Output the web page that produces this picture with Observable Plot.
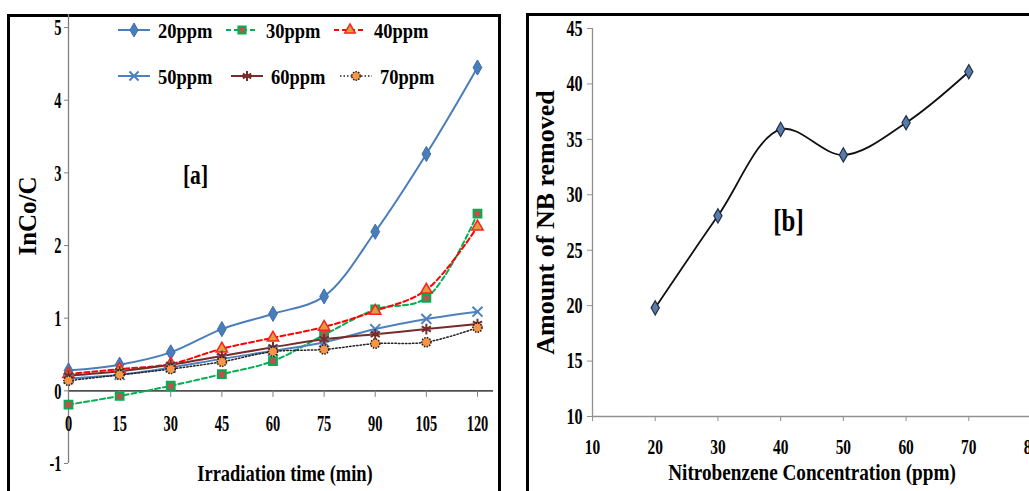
<!DOCTYPE html>
<html><head><meta charset="utf-8">
<script src="https://cdn.jsdelivr.net/npm/d3@7"></script>
<script src="https://cdn.jsdelivr.net/npm/@observablehq/plot@0.6"></script>
<style>
html,body{margin:0;padding:0;background:#fff;width:1029px;height:491px;overflow:hidden}
#wrap{position:relative;width:1029px;height:491px;overflow:hidden;font-family:"Liberation Serif",serif}
.box{position:absolute;border:3px solid #000;box-sizing:border-box}
</style></head>
<body><div id="wrap"></div>
<script>
// ---------- Data: panel [a] ----------
const time = [0, 15, 30, 45, 60, 75, 90, 105, 120];
const ppm20 = [0.28, 0.36, 0.53, 0.85, 1.06, 1.30, 2.19, 3.26, 4.45];
const ppm30 = [-0.19, -0.07, 0.07, 0.23, 0.41, 0.77, 1.12, 1.28, 2.44];
const ppm40 = [0.23, 0.30, 0.37, 0.58, 0.73, 0.88, 1.10, 1.39, 2.26];
const ppm50 = [0.17, 0.22, 0.32, 0.44, 0.55, 0.67, 0.85, 0.99, 1.09];
const ppm60 = [0.21, 0.27, 0.36, 0.48, 0.60, 0.71, 0.78, 0.85, 0.92];
const ppm70 = [0.14, 0.22, 0.30, 0.40, 0.54, 0.57, 0.65, 0.67, 0.87];
const seriesNames = ["20ppm", "30ppm", "40ppm", "50ppm", "60ppm", "70ppm"];
const seriesValues = [ppm20, ppm30, ppm40, ppm50, ppm60, ppm70];
const xTicksA = [0, 15, 30, 45, 60, 75, 90, 105, 120];
const yTicksA = [-1, 0, 1, 2, 3, 4, 5];

// ---------- Data: panel [b] ----------
const concentration = [20, 30, 40, 50, 60, 70];
const nbRemoved = [19.8, 28.1, 35.9, 33.6, 36.5, 41.1];
const xTicksB = [10, 20, 30, 40, 50, 60, 70, 80];
const yTicksB = [10, 15, 20, 25, 30, 35, 40, 45];

// ---------- Styles ----------
const styles = {
  "20ppm": {stroke: "#4A7EBB", width: 2, dash: null, symbol: "diamond", r: 4.6, fill: "#4A7EBB", mstroke: "#3d6da8", mwidth: 1, mdash: null},
  "30ppm": {stroke: "#00B050", width: 2, dash: "5,3", symbol: "square", r: 4.4, fill: "#C0504D", mstroke: "#00B050", mwidth: 2, mdash: null},
  "40ppm": {stroke: "#FF0000", width: 2, dash: "5,3", symbol: "triangle", r: 4.2, fill: "#D9A040", mstroke: "#FF2020", mwidth: 1.5, mdash: null},
  "50ppm": {stroke: "#4F81BD", width: 2, dash: null, symbol: "times", r: 4.6, fill: "none", mstroke: "#4F81BD", mwidth: 2, mdash: null},
  "60ppm": {stroke: "#772C2A", width: 2, dash: null, symbol: "asterisk", r: 5, fill: "none", mstroke: "#772C2A", mwidth: 2, mdash: null},
  "70ppm": {stroke: "#222222", width: 1.5, dash: "1.5,2", symbol: "circle", r: 4.6, fill: "#F79646", mstroke: "#222222", mwidth: 1.5, mdash: "1.5,1.2"}
};
const symMap = {diamond: d3.symbolDiamond, square: d3.symbolSquare, triangle: d3.symbolTriangle,
  times: d3.symbolTimes, asterisk: d3.symbolAsterisk, circle: d3.symbolCircle};

const FONT = "Liberation Serif";
const wrap = document.getElementById("wrap");

function box(l, t, w, h) {
  const d = document.createElement("div");
  d.className = "box";
  Object.assign(d.style, {left: l + "px", top: t + "px", width: w + "px", height: h + "px"});
  wrap.appendChild(d);
}
box(7, 14, 494, 500);
box(526, 13, 520, 500);

// squeeze horizontal text along its length (the reference figure is horizontally squeezed)
function condense(root, kNum, kOther) {
  d3.select(root).selectAll("text").each(function () {
    const s = this.textContent;
    if (!s) return;
    const t = this.getAttribute("transform") || "";
    if (/rotate/.test(t)) return;
    const k = /^-?\d+$/.test(s) ? kNum : kOther;
    const L = this.getComputedTextLength();
    if (!(L > 0)) return;
    this.setAttribute("textLength", (L * k).toFixed(2));
    this.setAttribute("lengthAdjust", "spacingAndGlyphs");
  });
}

const titleFont = {fontFamily: FONT, fontWeight: "bold", fill: "black", textAnchor: "middle", lineAnchor: "middle"};

// ---------- Panel [a] ----------
const rowsA = seriesNames.flatMap((name, i) => time.map((t, j) => ({series: name, t, v: seriesValues[i][j]})));
const tickFont = {fontFamily: FONT, fontWeight: "bold", fontSize: 24, fill: "black"};

const seriesMarks = [];
for (const name of seriesNames) {
  const st = styles[name];
  const data = rowsA.filter(d => d.series === name);
  seriesMarks.push(Plot.line(data, {x: "t", y: "v", stroke: st.stroke, strokeWidth: st.width,
    strokeDasharray: st.dash, curve: "catmull-rom"}));
}
for (const name of seriesNames) {
  const st = styles[name];
  const data = rowsA.filter(d => d.series === name);
  seriesMarks.push(Plot.dot(data, {x: "t", y: "v", symbol: st.symbol, r: st.r, fill: st.fill,
    stroke: st.mstroke, strokeWidth: st.mwidth, strokeDasharray: st.mdash}));
}

const plotA = Plot.plot({
  width: 505, height: 491,
  marginLeft: 68, marginRight: 12, marginTop: 14, marginBottom: 28,
  x: {domain: [0, 124.7], axis: null},
  y: {domain: [-1, 5.18]},
  style: {position: "absolute", left: "0px", top: "0px", background: "transparent", overflow: "visible", maxWidth: "none"},
  marks: [
    Plot.ruleX([0], {stroke: "#808080", strokeWidth: 1.3}),
    Plot.axisY({ticks: yTicksA, tickSize: 4, tickFormat: () => "", stroke: "#808080", label: null}),
    Plot.ruleY([0], {stroke: "#505050", strokeWidth: 1.6}),
    Plot.ruleX(xTicksA, {x: d => d, y1: 0, y2: -0.09, stroke: "#808080"}),
    Plot.text(xTicksA, {x: d => d, y: 0, dy: 32, text: d => String(d), ...tickFont}),
    Plot.text(yTicksA, {x: 0, y: d => d, dx: -7, textAnchor: "end", text: d => String(d), ...tickFont}),
    ...seriesMarks,
    Plot.text(["Irradiation time (min)"], {frameAnchor: "bottom", dx: 4, dy: 10, fontSize: 24, ...titleFont}),
    Plot.text(["InCo/C"], {frameAnchor: "left", dx: -41, dy: -23, rotate: -90, fontSize: 25, style: "letter-spacing:4px", ...titleFont}),
    Plot.text(["[a]"], {frameAnchor: "top-left", dx: 127, dy: 161, fontSize: 28, ...titleFont})
  ]
});
wrap.appendChild(plotA);
condense(plotA, 0.6, 0.77);

// legend for [a]
const leg = d3.select(wrap).append("svg").attr("width", 505).attr("height", 100)
  .style("position", "absolute").style("left", "0px").style("top", "0px");
const legendLayout = [[118, 30], [226, 30], [334, 30], [118, 76], [231, 76], [340, 76]];
seriesNames.forEach((name, i) => {
  const [lx, ly] = legendLayout[i];
  const st = styles[name];
  leg.append("line").attr("x1", lx).attr("x2", lx + 32).attr("y1", ly).attr("y2", ly)
    .attr("stroke", st.stroke).attr("stroke-width", st.width).attr("stroke-dasharray", st.dash);
  leg.append("path").attr("transform", `translate(${lx + 16},${ly})`)
    .attr("d", d3.symbol(symMap[st.symbol], Math.PI * st.r * st.r * 0.85)())
    .attr("fill", st.fill).attr("stroke", st.mstroke).attr("stroke-width", st.mwidth)
    .attr("stroke-dasharray", st.mdash);
  leg.append("text").attr("x", lx + 40).attr("y", ly).attr("dy", "0.35em")
    .attr("font-family", FONT).attr("font-weight", "bold").attr("font-size", 22).attr("fill", "black")
    .text(name);
});
condense(leg.node(), 0.84, 0.84);

// ---------- Panel [b] ----------
const rowsB = concentration.map((c, i) => ({c, v: nbRemoved[i]}));
const tickFontB = {fontFamily: FONT, fontWeight: "bold", fontSize: 23, fill: "black"};
const plotB = Plot.plot({
  width: 515, height: 491,
  marginLeft: 65, marginRight: 11, marginTop: 28, marginBottom: 75,
  x: {domain: [10, 80]},
  y: {domain: [10, 45]},
  style: {position: "absolute", left: "527px", top: "0px", background: "transparent", overflow: "visible", maxWidth: "none"},
  marks: [
    Plot.ruleX([10], {stroke: "#909090", strokeWidth: 1.3}),
    Plot.ruleY([10], {stroke: "#909090", strokeWidth: 1.5}),
    Plot.axisY({ticks: yTicksB, tickSize: 5, tickFormat: () => "", stroke: "#909090", label: null}),
    Plot.axisX({ticks: xTicksB, tickSize: 5, tickFormat: () => "", stroke: "#909090", label: null}),
    Plot.text(yTicksB, {x: 10, y: d => d, dx: -10, textAnchor: "end", text: d => String(d), ...tickFontB}),
    Plot.text(xTicksB, {x: d => d, y: 10, dy: 30, text: d => String(d), ...tickFontB, fontSize: 22}),
    Plot.line(rowsB, {x: "c", y: "v", stroke: "#111", strokeWidth: 1.8, curve: "catmull-rom"}),
    Plot.dot(rowsB, {x: "c", y: "v", symbol: "diamond", r: 4.3, fill: "#5A7AA8", stroke: "#1F2F4A", strokeWidth: 1.2}),
    Plot.text(["Nitrobenzene Concentration (ppm)"], {frameAnchor: "bottom", dy: 56, fontSize: 24, ...titleFont}),
    Plot.text(["Amount of NB removed"], {frameAnchor: "left", dx: -47, rotate: -90, fontSize: 26, ...titleFont}),
    Plot.text(["[b]"], {frameAnchor: "top-left", dx: 196, dy: 193, fontSize: 31, ...titleFont})
  ]
});
wrap.appendChild(plotB);
condense(plotB, 0.7, 0.8);
</script>
</body></html>
